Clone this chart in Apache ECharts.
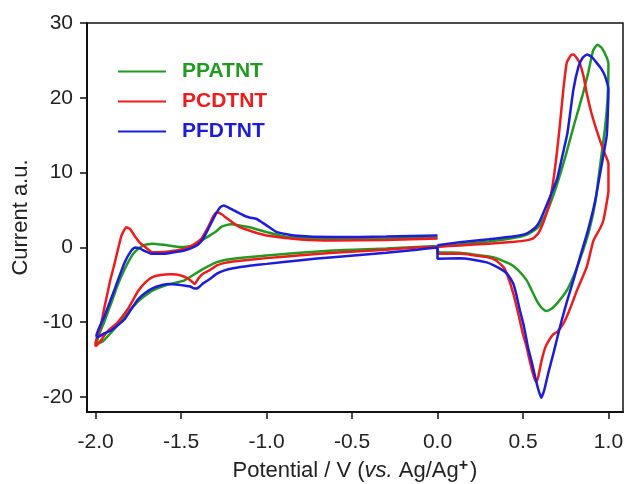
<!DOCTYPE html>
<html>
<head>
<meta charset="utf-8">
<script src="https://cdn.jsdelivr.net/npm/echarts@6/dist/echarts.min.js"></script>
<style>
html,body{margin:0;padding:0;background:#fff;}
#chart{width:625px;height:484px;}
</style>
</head>
<body>
<div id="chart"></div>
<script>
const seriesNames = ['PPATNT', 'PCDTNT', 'PFDTNT'];
const seriesColors = ['#229a22', '#ee1c1c', '#1c1cdc'];
const xTicks = [-2.0, -1.5, -1.0, -0.5, 0.0, 0.5, 1.0];
const yTicks = [-20, -10, 0, 10, 20, 30];

// PPATNT (green): anodic scan 0 -> 1.0 -> 0, then cathodic scan 0 -> -2.0 -> 0
const ppatntCurve = [
  [0.0,0.1],[0.13,0.4],[0.3,0.8],[0.45,1.3],[0.52,1.7],[0.56,2.2],[0.60,3.0],[0.65,5.3],[0.70,8.5],
  [0.75,12.3],[0.80,16.5],[0.85,20.5],[0.882,23.4],[0.91,26.3],[0.935,27.1],[0.96,26.7],[0.99,25.4],[1.0,24.5],
  [0.995,20],[0.98,16],[0.96,12.5],[0.94,9],[0.925,6.3],[0.89,2.5],[0.85,-0.5],[0.80,-3.6],[0.76,-5.6],
  [0.72,-6.9],[0.69,-7.7],[0.66,-8.3],[0.635,-8.5],[0.61,-8.1],[0.58,-7.1],[0.55,-5.7],[0.522,-4.4],
  [0.47,-3.0],[0.424,-2.2],[0.327,-1.3],[0.2,-0.9],[0.13,-0.7],[0.0,-0.6],
  [0.0,0.2],[-0.3,-0.15],[-0.61,-0.4],[-1.0,-1.07],[-1.195,-1.52],[-1.29,-1.97],[-1.38,-3.0],[-1.48,-4.4],
  [-1.58,-5.0],[-1.67,-5.8],[-1.75,-7.2],[-1.81,-8.7],[-1.89,-10.9],[-1.96,-12.6],[-1.99,-12.8],
  [-1.99,-12.5],[-1.95,-10.0],[-1.906,-7.3],[-1.87,-5.0],[-1.83,-2.9],[-1.79,-1.2],[-1.77,-0.6],[-1.72,0.27],
  [-1.67,0.5],[-1.6,0.35],[-1.50,0.05],[-1.42,0.27],[-1.36,1.2],[-1.30,2.05],[-1.26,2.8],[-1.21,3.1],
  [-1.15,2.9],[-1.10,2.7],[-1.0,2.05],[-0.88,1.38],[-0.61,1.17],[-0.3,1.2],[0.0,1.3]
];

// PCDTNT (red)
const pcdtntCurve = [
  [0.0,0.1],[0.13,0.27],[0.3,0.5],[0.45,0.75],[0.52,0.94],[0.56,1.2],[0.59,1.9],[0.62,3.4],[0.65,5.5],
  [0.678,9.0],[0.70,13.0],[0.717,16.6],[0.736,21.1],[0.756,24.7],[0.78,25.7],[0.795,25.8],[0.815,25.3],
  [0.834,24.5],[0.855,22.8],[0.873,20.6],[0.90,18.0],[0.93,15.7],[0.97,13.0],[1.0,11.2],
  [1.0,7.6],[0.99,6.0],[0.97,3.6],[0.95,2.5],[0.912,0.9],[0.873,-2.6],[0.815,-5.8],[0.77,-8.5],[0.736,-10.2],
  [0.70,-11.3],[0.678,-11.6],[0.65,-12.5],[0.63,-13.4],[0.61,-15.0],[0.59,-17.2],[0.577,-18.0],[0.56,-17.0],
  [0.54,-15.2],[0.52,-13.2],[0.50,-11.6],[0.47,-8.6],[0.444,-6.2],[0.41,-3.8],[0.385,-2.6],[0.34,-1.7],
  [0.288,-1.3],[0.2,-1.0],[0.13,-0.85],[0.0,-0.85],
  [0.0,0.1],[-0.12,0.0],[-0.3,-0.3],[-0.61,-0.72],[-0.8,-1.05],[-1.0,-1.43],[-1.195,-1.88],[-1.25,-2.1],
  [-1.29,-2.4],[-1.33,-3.0],[-1.37,-3.5],[-1.40,-4.2],[-1.42,-4.9],[-1.45,-4.3],[-1.50,-3.76],[-1.56,-3.6],
  [-1.62,-3.7],[-1.67,-4.0],[-1.71,-4.7],[-1.75,-5.8],[-1.78,-7.0],[-1.81,-8.2],[-1.87,-10.0],[-1.92,-11.0],
  [-1.95,-11.8],[-1.98,-12.8],[-2.0,-13.2],
  [-2.0,-12.8],[-1.97,-10.5],[-1.946,-7.8],[-1.915,-4.5],[-1.887,-2.0],[-1.848,1.6],[-1.82,2.7],[-1.80,2.5],
  [-1.77,1.5],[-1.74,0.6],[-1.72,0.27],[-1.67,-0.63],[-1.6,-0.6],[-1.53,-0.4],[-1.48,-0.18],[-1.44,0.2],
  [-1.40,0.8],[-1.38,1.2],[-1.34,2.8],[-1.31,4.2],[-1.29,4.7],[-1.26,4.4],[-1.23,3.85],[-1.19,3.2],
  [-1.156,2.7],[-1.08,2.1],[-1.0,1.6],[-0.8,1.07],[-0.61,0.94],[-0.3,1.0],[0.0,1.2]
];

// PFDTNT (blue)
const pfdtntCurve = [
  [0.0,0.3],[0.13,0.7],[0.3,1.1],[0.45,1.5],[0.52,1.85],[0.57,2.6],[0.60,3.6],[0.65,6.3],[0.70,9.2],
  [0.73,12.2],[0.76,15.3],[0.795,21.1],[0.825,24.2],[0.85,25.4],[0.875,25.8],[0.90,25.5],[0.93,24.7],
  [0.96,23.8],[0.98,22.9],[1.0,21.1],
  [0.99,15],[0.96,11],[0.92,6],[0.88,2.3],[0.84,-0.8],[0.80,-4.0],[0.76,-7.0],[0.72,-10.3],[0.68,-14.0],
  [0.65,-16.6],[0.625,-19.0],[0.607,-20.1],[0.59,-19.0],[0.572,-17.4],[0.55,-15.2],[0.53,-13.4],
  [0.505,-10.5],[0.483,-8.5],[0.46,-6.2],[0.444,-4.9],[0.41,-3.6],[0.385,-3.1],[0.33,-2.4],[0.288,-2.0],
  [0.2,-1.6],[0.13,-1.45],[0.0,-1.5],
  [0.0,0.0],[-0.12,-0.3],[-0.3,-0.7],[-0.61,-1.3],[-0.8,-1.7],[-1.0,-2.2],[-1.1,-2.45],[-1.195,-2.78],
  [-1.25,-3.1],[-1.29,-3.5],[-1.33,-4.2],[-1.37,-4.8],[-1.40,-5.4],[-1.42,-5.5],[-1.45,-5.2],[-1.48,-5.1],
  [-1.53,-4.95],[-1.575,-4.9],[-1.62,-5.1],[-1.67,-5.5],[-1.71,-6.1],[-1.75,-6.9],[-1.79,-8.2],
  [-1.83,-9.6],[-1.87,-10.4],[-1.91,-11.1],[-1.95,-11.5],[-1.99,-12.0],
  [-1.995,-11.8],[-1.946,-9.1],[-1.887,-5.5],[-1.83,-2.0],[-1.79,-0.4],[-1.77,0.0],[-1.745,-0.1],
  [-1.72,-0.4],[-1.67,-0.85],[-1.6,-0.85],[-1.53,-0.6],[-1.48,-0.4],[-1.44,-0.1],[-1.40,0.4],[-1.37,1.2],
  [-1.34,2.5],[-1.30,4.3],[-1.27,5.4],[-1.25,5.6],[-1.22,5.3],[-1.195,5.0],[-1.136,4.3],[-1.10,4.0],
  [-1.058,3.8],[-1.03,3.4],[-1.0,2.95],[-0.94,2.05],[-0.84,1.6],[-0.61,1.38],[-0.3,1.45],[0.0,1.6]
];

const curves = [ppatntCurve, pcdtntCurve, pfdtntCurve];

const chart = echarts.init(document.getElementById('chart'), null, {renderer: 'canvas'});
const font = 'Liberation Sans, Arial, sans-serif';

chart.setOption({
  animation: false,
  backgroundColor: '#fff',
  grid: {
    left: 87, right: 2, top: 23, bottom: 72,
    show: true, borderColor: '#111', borderWidth: 1.5, containLabel: false,
    outerBoundsMode: 'none'
  },
  legend: {
    orient: 'vertical',
    left: 113, top: 56,
    itemWidth: 48, itemHeight: 14, itemGap: 9,
    icon: 'path://M0,6 L48,6 L48,8 L0,8 Z',
    data: seriesNames.map((n, i) => ({name: n, textStyle: {color: seriesColors[i]}})),
    textStyle: {fontFamily: font, fontSize: 21, fontWeight: 'bold', padding: [0, 0, 0, 11]}
  },
  xAxis: {
    type: 'value', min: -2.05, max: 1.085,
    splitLine: {show: false},
    axisLine: {show: true, onZero: false, lineStyle: {color: '#111', width: 2}},
    axisTick: {show: true, inside: false, length: 7, lineStyle: {color: '#111', width: 1.5}, customValues: xTicks},
    axisLabel: {customValues: xTicks, formatter: v => v.toFixed(1), fontFamily: font, fontSize: 21, color: '#222', margin: 20},
    name: '{a|Potential / V (}{i|vs.}{a| Ag/Ag}{s|+}{a|)}',
    nameLocation: 'middle', nameGap: 33,
    nameTextStyle: {
      rich: {
        a: {fontFamily: font, fontSize: 22, color: '#222', lineHeight: 26},
        i: {fontFamily: font, fontSize: 22, color: '#222', fontStyle: 'italic', lineHeight: 26},
        s: {fontFamily: font, fontSize: 16, color: '#222', fontWeight: 'bold', lineHeight: 26, verticalAlign: 'top', padding: [0, 2, 18, 0]}
      }
    }
  },
  yAxis: {
    type: 'value', min: -22, max: 30,
    splitLine: {show: false},
    axisLine: {show: true, onZero: false, lineStyle: {color: '#111', width: 2}},
    axisTick: {show: true, inside: false, length: 7, lineStyle: {color: '#111', width: 1.5}, customValues: yTicks},
    axisLabel: {customValues: yTicks, fontFamily: font, fontSize: 21, color: '#222', margin: 14},
    name: 'Current a.u.',
    nameLocation: 'middle', nameGap: 53,
    nameTextStyle: {fontFamily: font, fontSize: 22, color: '#222'}
  },
  series: seriesNames.map((n, i) => ({
    name: n, type: 'line', data: curves[i],
    symbol: 'none', showSymbol: false, smooth: 0.15,
    lineStyle: {color: seriesColors[i], width: 2.5},
    itemStyle: {color: seriesColors[i]}
  }))
});
</script>
</body>
</html>
